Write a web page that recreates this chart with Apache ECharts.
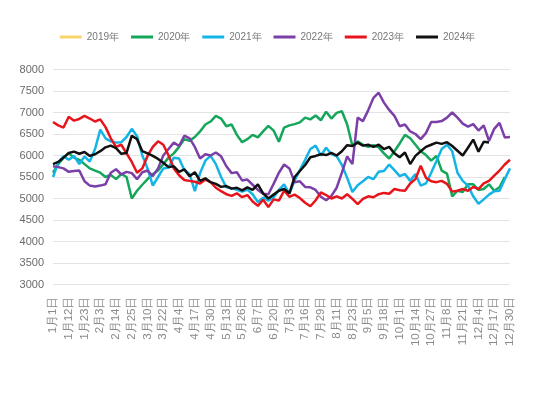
<!DOCTYPE html>
<html>
<head>
<meta charset="utf-8">
<script src="https://cdn.jsdelivr.net/npm/echarts@6/dist/echarts.min.js"></script>
<style>
  html, body { margin: 0; padding: 0; background: #fff; }
  #chart { width: 535px; height: 400px; }
</style>
</head>
<body>
<div id="chart"></div>
<script>
const dates = [
  '1月1日', '1月5日', '1月8日', '1月12日', '1月16日', '1月19日',
  '1月23日', '1月27日', '1月30日', '2月3日', '2月7日', '2月10日',
  '2月14日', '2月18日', '2月21日', '2月25日', '3月1日', '3月5日',
  '3月10日', '3月14日', '3月18日', '3月22日', '3月26日', '3月31日',
  '4月4日', '4月8日', '4月13日', '4月17日', '4月21日', '4月26日',
  '4月30日', '5月4日', '5月9日', '5月13日', '5月17日', '5月22日',
  '5月26日', '5月30日', '6月3日', '6月7日', '6月11日', '6月16日',
  '6月20日', '6月24日', '6月29日', '7月3日', '7月7日', '7月12日',
  '7月16日', '7月20日', '7月25日', '7月29日', '8月2日', '8月7日',
  '8月11日', '8月15日', '8月19日', '8月23日', '8月27日', '9月1日',
  '9月5日', '9月9日', '9月14日', '9月18日', '9月22日', '9月27日',
  '10月1日', '10月5日', '10月10日', '10月14日', '10月18日', '10月23日',
  '10月27日', '10月31日', '11月4日', '11月8日', '11月12日', '11月17日',
  '11月21日', '11月25日', '11月30日', '12月4日', '12月8日', '12月13日',
  '12月17日', '12月21日', '12月26日', '12月30日'
]

const years = ['2019年', '2020年', '2021年', '2022年', '2023年', '2024年']
const colors = ['#F7D56A', '#14A65A', '#14B4E6', '#7B3FA8', '#E8141B', '#111111']

const y2019 = []
const y2020 = [
  5600, 5800, 5950, 6050, 5950, 5900, 5800, 5700, 5650, 5600, 5500, 5550,
  5450, 5570, 5500, 5000, 5180, 5320, 5450, 5570, 5650, 5800, 5950, 6050,
  6200, 6380, 6340, 6430, 6560, 6720, 6790, 6920, 6860, 6680, 6720, 6480,
  6310, 6380, 6480, 6420, 6560, 6690, 6580, 6320, 6650, 6700, 6730, 6770,
  6880, 6840, 6930, 6820, 7020, 6860, 6990, 7030, 6720, 6220, 6330, 6250,
  6200, 6240, 6190, 6050, 5930, 6100, 6280, 6480, 6400, 6250, 6100, 6010,
  5880, 5990, 5650, 5580, 5050, 5180, 5150, 5330, 5330, 5200, 5220, 5330,
  5180, 5260, 5500, null
]
const y2021 = [
  5500, 5840, 5980, 5900, 5990, 5800, 5980, 5860, 6150, 6600, 6400, 6330,
  6300, 6310, 6430, 6620, 6450, 6000, 5700, 5300, 5500, 5700, 5720, 5950,
  5930, 5660, 5570, 5170, 5590, 5880, 5990, 5800, 5500, 5260, 5240, 5200,
  5160, 5210, 5100, 4920, 5020, 4950, 5030, 5200, 5330, 5110, 5420, 5660,
  5900, 6150, 6230, 6000, 6180, 6030, 5980, 5780, 5480, 5150, 5310, 5400,
  5500, 5450, 5620, 5640, 5790, 5660, 5520, 5570, 5410, 5570, 5300, 5350,
  5600, 5870, 6150, 6250, 6100, 5600, 5410, 5300, 5050, 4880, 4980, 5090,
  5170, 5180, 5450, 5700
]
const y2022 = [
  5750, 5730, 5700, 5620, 5640, 5650, 5400, 5300, 5280, 5300, 5330, 5600,
  5680, 5560, 5620, 5590, 5450, 5610, 5650, 5520, 5700, 6000, 6150, 6300,
  6220, 6460, 6400, 6200, 5930, 6030, 6000, 6070, 5980, 5750, 5590, 5610,
  5420, 5440, 5320, 5200, 5110, 5100, 5340, 5600, 5790, 5700, 5380, 5400,
  5270, 5260, 5200, 5040, 4960, 5060, 5250, 5600, 5980, 5800, 6880, 6800,
  7050, 7340, 7460, 7230, 7060, 6920, 6680, 6720, 6560, 6500, 6380, 6520,
  6780, 6780, 6800, 6880, 7000, 6880, 6740, 6670, 6730, 6580, 6700, 6340,
  6620, 6760, 6420, 6430
]
const y2023 = [
  6780, 6700, 6650, 6900, 6810, 6850, 6920, 6860, 6790, 6840, 6660, 6400,
  6200, 6250, 6050, 5850, 5600, 5700, 5990, 6200, 6330, 6250, 6000, 5700,
  5540, 5430, 5410, 5390, 5350, 5440, 5380, 5250, 5170, 5100, 5060, 5120,
  5030, 5080, 4930, 4830, 4970, 4800, 4980, 4950, 5180, 5040, 5090, 5010,
  4900, 4820, 4960, 5140, 5080, 5000, 5050, 5000, 5100, 4990, 4870, 4990,
  5050, 5030, 5100, 5130, 5110, 5220, 5190, 5180, 5350, 5450, 5760, 5480,
  5400, 5380, 5410, 5340, 5160, 5180, 5220, 5180, 5270, 5220, 5350, 5410,
  5530, 5650, 5790, 5900
]
const y2024 = [
  5800, 5850, 5950, 6060, 6090, 6040, 6080, 5990, 6030, 6100, 6190, 6230,
  6170, 6040, 6060, 6460, 6380, 6100, 6050, 5990, 5920, 5830, 5730, 5750,
  5620, 5680, 5520, 5610, 5410, 5470, 5380, 5340, 5270, 5290, 5230, 5250,
  5190, 5260, 5200, 5330, 5120, 5000, 5090, 5180, 5220, 5120, 5500, 5640,
  5780, 5960, 5990, 6030, 6010, 6060, 6000, 6100, 6240, 6220, 6300, 6230,
  6250, 6200, 6250, 6150, 6200, 6050, 5960, 6070, 5800, 5990, 6100, 6200,
  6250, 6300, 6270, 6310, 6220, 6110, 6000, 6180, 6370, 6090, 6320, 6300,
  null, null, null, null
]
const yearData = [y2019, y2020, y2021, y2022, y2023, y2024]

const chart = echarts.init(document.getElementById('chart'))
chart.setOption({
  animation: false,
  color: colors,
  legend: {
    data: years,
    top: 27,
    left: 'center',
    icon: 'rect',
    itemWidth: 22,
    itemHeight: 3,
    itemGap: 12,
    textStyle: { color: '#777', fontSize: 10 },
  },
  grid: { left: 53, right: 25, top: 69.5, bottom: 115.5 },
  xAxis: {
    type: 'category',
    boundaryGap: false,
    data: dates,
    axisLine: { show: false },
    axisTick: { show: false },
    axisLabel: {
      interval: 2,
      rotate: 90,
      color: '#8a8a8a',
      fontSize: 11.5,
      margin: 12,
    },
  },
  yAxis: {
    type: 'value',
    min: 3000,
    max: 8000,
    interval: 500,
    axisLine: { show: false },
    axisTick: { show: false },
    axisLabel: {
      color: '#6a6a6a',
      fontSize: 11,
      margin: 9,
      formatter: v => String(v),
    },
    splitLine: { lineStyle: { color: '#e3e3e3', width: 1 } },
  },
  series: years.map((name, i) => ({
    name: name,
    type: 'line',
    data: yearData[i],
    symbol: 'none',
    connectNulls: false,
    lineStyle: { width: 2.5, color: colors[i] },
  })),
})
</script>
</body>
</html>
